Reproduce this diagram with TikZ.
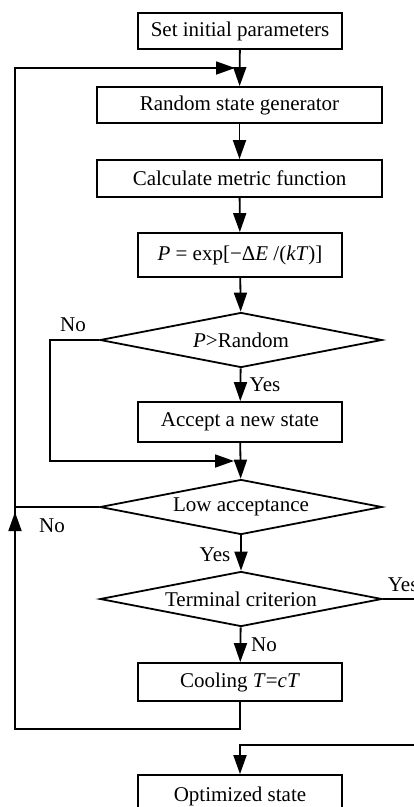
\documentclass[tikz,border=0pt]{standalone}
\usepackage{fontspec}
\setmainfont{Liberation Serif}
\usetikzlibrary{shapes.geometric,arrows.meta,calc}
\begin{document}
\begin{tikzpicture}[x=1pt,y=-1pt,
  font=\fontsize{21}{24}\selectfont,
  line width=1.8pt,
  box/.style={draw,rectangle,inner sep=0pt,minimum height=37pt},
  wbox/.style={box,minimum width=285pt},
  nbox/.style={box,minimum width=204pt},
  dec/.style={draw,diamond,shape aspect=5.2,inner sep=0pt,minimum width=282pt,minimum height=55pt},
  arr/.style={-{Triangle[length=19pt,width=13pt]}},
  lab/.style={inner sep=0pt}]
\useasboundingbox (0,0) rectangle (414,807);
\clip (0,0) rectangle (414,807);
% nodes
\node[nbox,minimum height=36pt] (set) at (240,31) {Set initial parameters};
\node[wbox,minimum height=36pt] (rand) at (239.5,105) {Random state generator};
\node[wbox] (calc) at (239.5,178.5) {Calculate metric function};
\node[nbox,minimum height=44pt] (pbox) at (240,255) {\textit{P} = exp[−Δ\textit{E} /(\textit{kT})]};
\node[dec] (d1) at (241,340) {\textit{P}>Random};
\node[nbox,minimum height=40pt] (acc) at (240,422) {Accept a new state};
\node[dec] (d2) at (241,507) {Low acceptance};
\node[dec] (d3) at (241,599) {Terminal criterion};
\node[nbox,minimum height=38pt] (cool) at (240,682) {Cooling \textit{T}=\textit{cT}};
\node[nbox,minimum height=42pt] (opt) at (240,796) {Optimized state};
% labels
\node[lab] (l1) at (73,325) {No};
\node[lab] (l2) at (265,385) {Yes};
\node[lab] (l3) at (52,526) {No};
\node[lab] (l4) at (215,555) {Yes};
\node[lab,anchor=west] (l5) at (387,585) {Yes};
\node[lab] (l6) at (264,645) {No};
% coordinates
\coordinate (m1) at (234,461);
\coordinate (m0) at (235,68);
\coordinate (k1) at (50,340);
\coordinate (k2) at (50,461);
\coordinate (c1) at (240,729);
\coordinate (c2) at (15,729);
\coordinate (c3) at (15,68);
\coordinate (c4) at (15,600);
\coordinate (c5) at (15,512);
\coordinate (c6) at (15,507);
\coordinate (r1) at (430,599);
\coordinate (r2) at (430,745);
\coordinate (r3) at (240,745);
% connectors
\draw[arr] (set) -- (rand);
\draw[arr] (rand) -- (calc);
\draw[arr] (calc) -- (pbox);
\draw[arr] (pbox) -- (d1);
\draw[arr] (d1) -- (acc);
\draw[arr] (acc) -- (d2);
\draw[arr] (d1.west) -- (k1) -- (k2) -- (m1);
\draw[arr] (d2) -- (d3);
\draw[arr] (d3) -- (cool);
\draw (d2.west) -- (c6);
\draw[arr] (cool.south) -- (c1) -- (c2) -- (c3) -- (m0);
\draw[arr] (c4) -- (c5);
\draw[arr] (d3.east) -- (r1) -- (r2) -- (r3) -- (opt.north);
\end{tikzpicture}
\end{document}
